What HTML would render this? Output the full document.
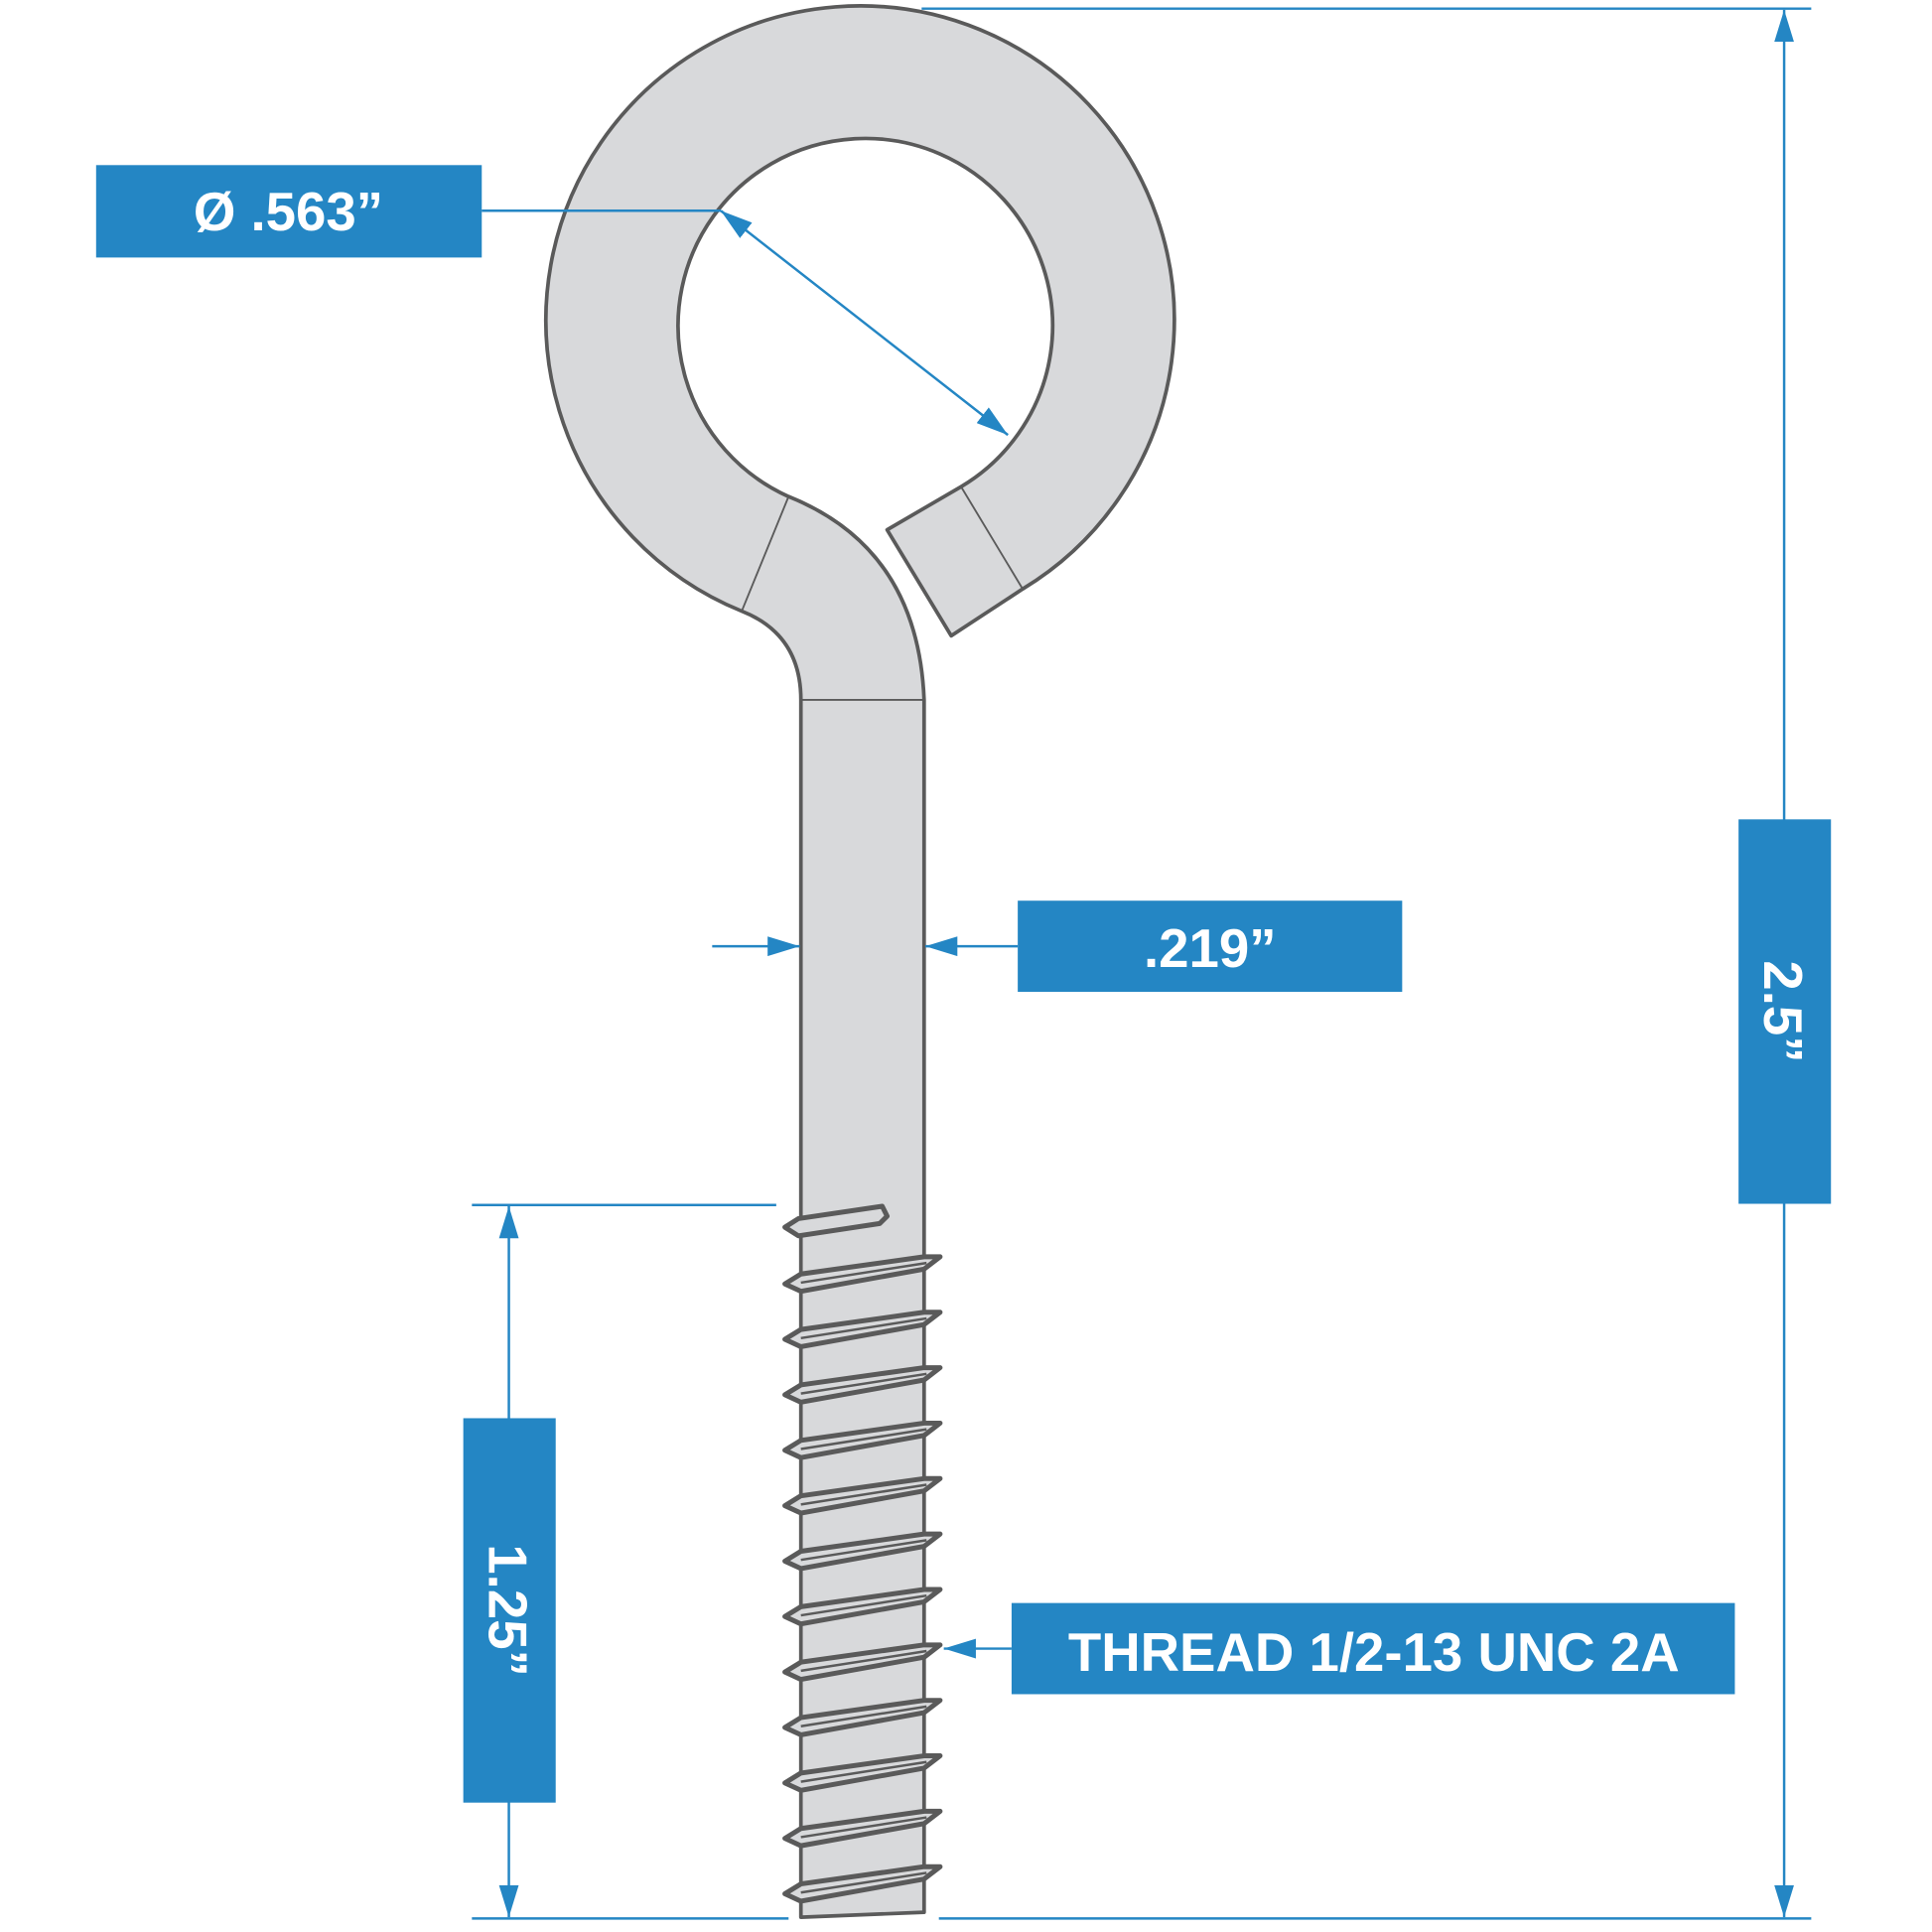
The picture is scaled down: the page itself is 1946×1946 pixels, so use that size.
<!DOCTYPE html>
<html><head><meta charset="utf-8"><style>
html,body{margin:0;padding:0;background:#fff;}
svg{display:block;}
text{font-family:"Liberation Sans",sans-serif;font-weight:bold;fill:#fff;}
</style></head><body>
<svg width="1946" height="1946" viewBox="0 0 1568 1568" xmlns="http://www.w3.org/2000/svg">
<defs>
<marker id="b" viewBox="0 0 10 10" refX="10" refY="5" markerWidth="26" markerHeight="16" orient="auto-start-reverse" markerUnits="userSpaceOnUse" preserveAspectRatio="none">
<path d="M0,0 L10,5 L0,10 z" fill="#2486c4"/></marker>
</defs>
<g stroke="#5a5a5a" stroke-width="3" fill="#d8d9db" stroke-linejoin="round">
<path d="M650,568 Q650,515 602,496 A255,255 0 1 1 830,478 L772,516 L720,430 L780,395 A152,152 0 1 0 640,403 Q745,445 750,568 L750,1552 L650,1556 Z"/>
<line x1="602" y1="496" x2="640" y2="403" stroke-width="1.5"/>
<line x1="780" y1="395" x2="830" y2="478" stroke-width="1.5"/>
<line x1="650" y1="568" x2="750" y2="568" stroke-width="1.5"/>
<g stroke-width="4">
<path d="M637,996 L648,989 L716,979 L720,987 L714,993 L648,1003 Z" />
<g id="t">
<path d="M637,1042 L650,1034 L750,1020 L763,1020 L750,1030 L650,1048 Z"/>
<line x1="650" y1="1041" x2="752" y2="1025" stroke-width="2"/>
</g>
<use href="#t" y="45"/><use href="#t" y="90"/><use href="#t" y="135"/><use href="#t" y="180"/><use href="#t" y="225"/><use href="#t" y="270"/><use href="#t" y="315"/><use href="#t" y="360"/><use href="#t" y="405"/><use href="#t" y="450"/><use href="#t" y="495"/>
</g>
</g>
<g stroke="#2486c4" stroke-width="2" fill="none">
<line x1="391" y1="171" x2="585" y2="171"/>
<line x1="585" y1="171" x2="818" y2="353" marker-start="url(#b)" marker-end="url(#b)"/>
<line x1="578" y1="768" x2="649" y2="768" marker-end="url(#b)"/>
<line x1="826" y1="768" x2="751" y2="768" marker-end="url(#b)"/>
<line x1="748" y1="7" x2="1470" y2="7"/>
<line x1="762" y1="1557" x2="1470" y2="1557"/>
<line x1="1448" y1="8" x2="1448" y2="1556" marker-start="url(#b)" marker-end="url(#b)"/>
<line x1="383" y1="978" x2="630" y2="978"/>
<line x1="383" y1="1557" x2="640" y2="1557"/>
<line x1="413" y1="979" x2="413" y2="1556" marker-start="url(#b)" marker-end="url(#b)"/>
<line x1="821" y1="1338" x2="766" y2="1338" marker-end="url(#b)"/>
</g>
<g fill="#2486c4">
<rect x="78" y="134" width="313" height="75"/>
<rect x="826" y="731" width="312" height="74"/>
<rect x="1411" y="665" width="75" height="312"/>
<rect x="376" y="1151" width="75" height="312"/>
<rect x="821" y="1301" width="587" height="74"/>
</g>
<text x="234" y="187" font-size="44" text-anchor="middle">Ø  .563”</text>
<text x="982" y="785" font-size="44" text-anchor="middle">.219”</text>
<text transform="translate(1448,821) rotate(90)" font-size="44" text-anchor="middle" dy="16">2.5”</text>
<text transform="translate(413,1307) rotate(90)" font-size="44" text-anchor="middle" dy="16">1.25”</text>
<text x="1115" y="1356" font-size="44" text-anchor="middle">THREAD 1/2-13 UNC 2A</text>
</svg>
</body></html>
